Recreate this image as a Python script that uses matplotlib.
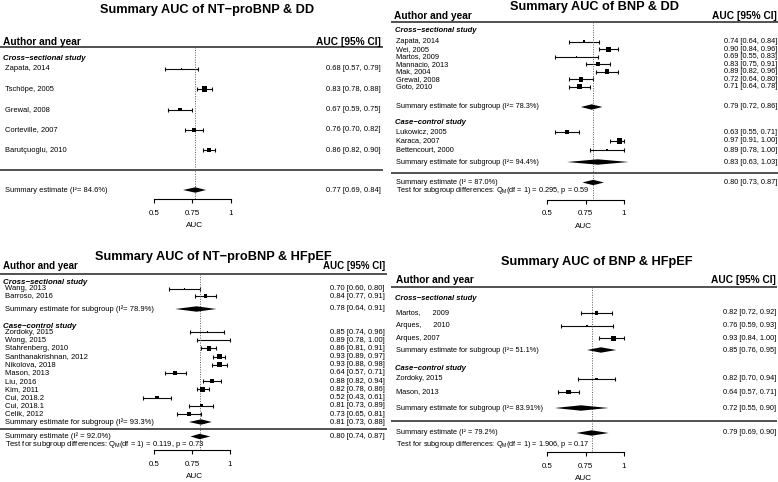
import matplotlib
matplotlib.use("Agg")
import matplotlib.pyplot as plt

plt.rcParams["font.family"] = ["Liberation Sans", "DejaVu Sans"]
plt.rcParams["mathtext.fontset"] = "custom"
plt.rcParams["mathtext.rm"] = "Liberation Sans"
plt.rcParams["mathtext.it"] = "Liberation Sans:italic"
plt.rcParams["mathtext.bf"] = "Liberation Sans:bold"

W, H = 778, 482
M = "\u2212"

# ---- NT-proBNP & DD ----
ntdd_cs_names = ["Zapata, 2014", "Tschöpe, 2005", "Grewal, 2008", "Corteville, 2007", "Barutçuoglu, 2010"]
ntdd_cs_auc = [0.68, 0.83, 0.67, 0.76, 0.86]
ntdd_cs_lo = [0.57, 0.78, 0.59, 0.70, 0.82]
ntdd_cs_hi = [0.79, 0.88, 0.75, 0.82, 0.90]
ntdd_cs_w = [1.2, 4.5, 2.5, 3.2, 3.8]
ntdd_all = (0.77, 0.69, 0.84)
ntdd_i2 = "84.6%"

# ---- BNP & DD ----
bdd_cs_names = ["Zapata, 2014", "Wei, 2005", "Martos, 2009", "Mannacio, 2013", "Mak, 2004",
                "Grewal, 2008", "Goto, 2010"]
bdd_cs_auc = [0.74, 0.90, 0.69, 0.83, 0.89, 0.72, 0.71]
bdd_cs_lo = [0.64, 0.84, 0.55, 0.75, 0.82, 0.64, 0.64]
bdd_cs_hi = [0.84, 0.96, 0.83, 0.91, 0.96, 0.80, 0.78]
bdd_cs_w = [2.2, 4.0, 1.2, 3.3, 3.8, 3.8, 3.8]
bdd_cs_sub = (0.79, 0.72, 0.86)
bdd_cs_i2 = "78.3%"
bdd_cc_names = ["Lukowicz, 2005", "Karaca, 2007", "Bettencourt, 2000"]
bdd_cc_auc = [0.63, 0.97, 0.89]
bdd_cc_lo = [0.55, 0.91, 0.78]
bdd_cc_hi = [0.71, 1.00, 1.00]
bdd_cc_w = [3.5, 4.2, 2.0]
bdd_cc_sub = (0.83, 0.63, 1.03)
bdd_cc_i2 = "94.4%"
bdd_all = (0.80, 0.73, 0.87)
bdd_i2 = "87.0%"
bdd_test = ("0.295", "0.59")

# ---- NT-proBNP & HFpEF ----
nthf_cs_names = ["Wang, 2013", "Barroso, 2016"]
nthf_cs_auc = [0.70, 0.84]
nthf_cs_lo = [0.60, 0.77]
nthf_cs_hi = [0.80, 0.91]
nthf_cs_w = [1.2, 2.8]
nthf_cs_sub = (0.78, 0.64, 0.91)
nthf_cs_i2 = "78.9%"
nthf_cc_names = ["Zordoky, 2015", "Wong, 2015", "Stahrenberg, 2010", "Santhanakrishnan, 2012",
                 "Nikolova, 2018", "Mason, 2013", "Liu, 2016", "Kim, 2011", "Cui, 2018.2",
                 "Cui, 2018.1", "Celik, 2012"]
nthf_cc_auc = [0.85, 0.89, 0.86, 0.93, 0.93, 0.64, 0.88, 0.82, 0.52, 0.81, 0.73]
nthf_cc_lo = [0.74, 0.78, 0.81, 0.89, 0.88, 0.57, 0.82, 0.78, 0.43, 0.73, 0.65]
nthf_cc_hi = [0.96, 1.00, 0.91, 0.97, 0.98, 0.71, 0.94, 0.86, 0.61, 0.89, 0.81]
nthf_cc_w = [1.0, 1.0, 3.5, 3.8, 3.8, 3.0, 3.2, 4.2, 2.5, 2.5, 2.8]
nthf_cc_sub = (0.81, 0.73, 0.88)
nthf_cc_i2 = "93.3%"
nthf_all = (0.80, 0.74, 0.87)
nthf_i2 = "92.0%"
nthf_test = ("0.119", "0.73")

# ---- BNP & HFpEF ----
bhf_cs_names = ["Martos,      2009", "Arques,      2010", "Arques, 2007"]
bhf_cs_auc = [0.82, 0.76, 0.93]
bhf_cs_lo = [0.72, 0.59, 0.84]
bhf_cs_hi = [0.92, 0.93, 1.00]
bhf_cs_w = [2.5, 1.0, 4.0]
bhf_cs_sub = (0.85, 0.76, 0.95)
bhf_cs_i2 = "51.1%"
bhf_cc_names = ["Zordoky, 2015", "Mason, 2013"]
bhf_cc_auc = [0.82, 0.64]
bhf_cc_lo = [0.70, 0.57]
bhf_cc_hi = [0.94, 0.71]
bhf_cc_w = [2.0, 3.8]
bhf_cc_sub = (0.72, 0.55, 0.90)
bhf_cc_i2 = "83.91%"
bhf_all = (0.79, 0.69, 0.90)
bhf_i2 = "79.2%"
bhf_test = ("1.906", "0.17")

ticks = [0.5, 0.75, 1.0]
tick_labels = ["0.5", "0.75", "1"]
CS = f"Cross{M}sectional study"
CC = f"Case{M}control study"


def group(label, names, auc, lo, hi, w, sub=None, i2=None):
    return dict(label=label, names=names, auc=auc, lo=lo, hi=hi, w=w, sub=sub, i2=i2)


def ci_text(e, l, h):
    return f"{e:.2f} [{l:.2f}, {h:.2f}]"


def diamond(ax, est, lo, hi, y, h=2.7):
    ax.fill([lo, est, hi, est], [y, y - h, y, y + h], color="black", lw=0, zorder=3)


def draw_panel(fig, title, groups, overall, sum_label, test, lay):
    x0, x1 = lay["x"]
    top, bot = lay["band"]
    ax = fig.add_axes([x0 / W, 1 - bot / H, (x1 - x0) / W, (bot - top) / H])
    ax.patch.set_visible(False)
    p05, p1 = lay["scale"]
    k = 0.5 / (p1 - p05)
    ax.set_xlim(0.5 + (x0 - p05) * k, 0.5 + (x1 - p05) * k)
    ax.set_ylim(bot, top)
    tr = ax.get_yaxis_transform()

    def fx(px):
        return (px - x0) / (x1 - x0)

    fs = lay["fs"]
    tx, ty = lay["title"]
    fig.text(tx / W, 1 - ty / H, title, ha="center", va="center", fontsize=9.2, fontweight="bold")
    ax.text(fx(lay["head_x"]), lay["head_y"], "Author and year", transform=tr,
            ha="left", va="center", fontsize=lay["hfs"], fontweight="bold")
    ax.text(fx(lay["right_x"]), lay["head_y"], "AUC [95% CI]", transform=tr,
            ha="right", va="center", fontsize=lay["hfs"], fontweight="bold")
    lx0, lx1 = lay["rule"]
    for yy in (lay["line_y"], lay["sep_y"]):
        ax.plot([fx(lx0), fx(lx1)], [yy, yy], transform=tr, color="0.2", lw=1.2,
                solid_capstyle="butt")

    for g, (gy, first, step, sub_y) in zip(groups, lay["rows"]):
        ax.text(fx(lay["group_x"]), gy, g["label"], transform=tr, ha="left", va="center",
                fontsize=fs + 0.2, fontweight="bold", style="italic")
        ys = [first + i * step for i in range(len(g["names"]))]
        xerr = [[a - l for a, l in zip(g["auc"], g["lo"])],
                [h - a for a, h in zip(g["auc"], g["hi"])]]
        ax.errorbar(g["auc"], ys, xerr=xerr, fmt="none", ecolor="0.05", elinewidth=0.8,
                    capsize=1.2, capthick=0.8, zorder=2)
        ax.scatter(g["auc"], ys, marker="s", s=[(w * 0.9) ** 2 for w in g["w"]],
                   color="black", linewidths=0, zorder=3)
        for name, a, l, h, y in zip(g["names"], g["auc"], g["lo"], g["hi"], ys):
            ax.text(fx(lay["name_x"]), y, name, transform=tr, ha="left", va="center", fontsize=fs)
            ax.text(fx(lay["right_x"]), y, ci_text(a, l, h), transform=tr, ha="right",
                    va="center", fontsize=fs)
        if g["sub"] is not None:
            e, l, h = g["sub"]
            diamond(ax, e, l, h, sub_y)
            ax.text(fx(lay["name_x"]), sub_y, f"Summary estimate for subgroup (I²= {g['i2']})",
                    transform=tr, ha="left", va="center", fontsize=fs)
            ax.text(fx(lay["right_x"]), sub_y, ci_text(e, l, h), transform=tr, ha="right",
                    va="center", fontsize=fs)

    e, l, h = overall
    diamond(ax, e, l, h, lay["sum_y"])
    ax.text(fx(lay["name_x"]), lay["sum_y"], sum_label, transform=tr, ha="left",
            va="center", fontsize=fs)
    ax.text(fx(lay["right_x"]), lay["sum_y"], ci_text(e, l, h), transform=tr, ha="right",
            va="center", fontsize=fs)
    if test is not None:
        ax.text(fx(lay["name_x"]), lay["test_y"],
                f"Test for subgroup differences: Q$_\\mathrm{{M}}$(df = 1) = {test[0]}, p = {test[1]}",
                transform=tr, ha="left", va="center", fontsize=fs)
    ax.vlines(e, lay["line_y"], lay["axis_y"], colors="0.35", linestyles=(0, (1, 1.5)), lw=0.7)

    for s in ("top", "right", "left"):
        ax.spines[s].set_visible(False)
    ax.spines["bottom"].set_position(("data", lay["axis_y"]))
    ax.spines["bottom"].set_bounds(0.5, 1.0)
    ax.spines["bottom"].set_linewidth(0.8)
    ax.set_yticks([])
    ax.set_xticks(ticks)
    ax.set_xticklabels(tick_labels)
    ax.tick_params(axis="x", direction="out", length=3.2, width=0.8, pad=4.5, labelsize=5.7)
    ax.set_xlabel("AUC", fontsize=5.9, labelpad=4)
    return ax


fig = plt.figure(figsize=(W / 100, H / 100), dpi=100)

draw_panel(
    fig, f"Summary AUC of NT{M}proBNP & DD",
    [group(CS, ntdd_cs_names, ntdd_cs_auc, ntdd_cs_lo, ntdd_cs_hi, ntdd_cs_w)],
    ntdd_all, f"Summary estimate (I²= {ntdd_i2})", None,
    dict(x=(0, 389), band=(0, 241), scale=(154, 230.5), title=(207, 10), head_y=42, line_y=47,
         rows=[(58, 69, 20.25, None)], sep_y=170, sum_y=190, axis_y=199,
         head_x=3, group_x=3, name_x=5, right_x=381, rule=(0, 383), fs=5.4, hfs=7.3))

draw_panel(
    fig, "Summary AUC of BNP & DD",
    [group(CS, bdd_cs_names, bdd_cs_auc, bdd_cs_lo, bdd_cs_hi, bdd_cs_w, bdd_cs_sub, bdd_cs_i2),
     group(CC, bdd_cc_names, bdd_cc_auc, bdd_cc_lo, bdd_cc_hi, bdd_cc_w, bdd_cc_sub, bdd_cc_i2)],
    bdd_all, f"Summary estimate (I² = {bdd_i2})", bdd_test,
    dict(x=(389, 778), band=(0, 241), scale=(547, 624), title=(595, 7), head_y=16, line_y=21.5,
         rows=[(31, 41.7, 7.5, 107), (123, 132, 9, 162)], sep_y=173, sum_y=182.5, test_y=190.5,
         axis_y=199.5, head_x=394, group_x=395, name_x=396, right_x=777, rule=(391, 778),
         fs=5.3, hfs=7.3))

draw_panel(
    fig, f"Summary AUC of NT{M}proBNP & HFpEF",
    [group(CS, nthf_cs_names, nthf_cs_auc, nthf_cs_lo, nthf_cs_hi, nthf_cs_w, nthf_cs_sub, nthf_cs_i2),
     group(CC, nthf_cc_names, nthf_cc_auc, nthf_cc_lo, nthf_cc_hi, nthf_cc_w, nthf_cc_sub, nthf_cc_i2)],
    nthf_all, f"Summary estimate (I² = {nthf_i2})", nthf_test,
    dict(x=(0, 389), band=(241, 482), scale=(154, 230), title=(213, 257), head_y=266, line_y=274,
         rows=[(282, 289, 7, 309), (326, 332, 8.2, 422)], sep_y=429, sum_y=436.5, test_y=444.5,
         axis_y=450, head_x=3, group_x=3, name_x=5, right_x=385, rule=(0, 387),
         fs=5.5, hfs=7.0))

draw_panel(
    fig, "Summary AUC of BNP & HFpEF",
    [group(CS, bhf_cs_names, bhf_cs_auc, bhf_cs_lo, bhf_cs_hi, bhf_cs_w, bhf_cs_sub, bhf_cs_i2),
     group(CC, bhf_cc_names, bhf_cc_auc, bhf_cc_lo, bhf_cc_hi, bhf_cc_w, bhf_cc_sub, bhf_cc_i2)],
    bhf_all, f"Summary estimate (I² = {bhf_i2})", bhf_test,
    dict(x=(389, 778), band=(241, 482), scale=(547, 624), title=(597, 262), head_y=280, line_y=287,
         rows=[(299, 313, 12.5, 350), (369, 379, 13, 408)], sep_y=421, sum_y=433, test_y=444,
         axis_y=452, head_x=396, group_x=395, name_x=396, right_x=776, rule=(391, 777),
         fs=5.3, hfs=7.3))

fig.savefig("out.png", dpi=100, facecolor="white")
